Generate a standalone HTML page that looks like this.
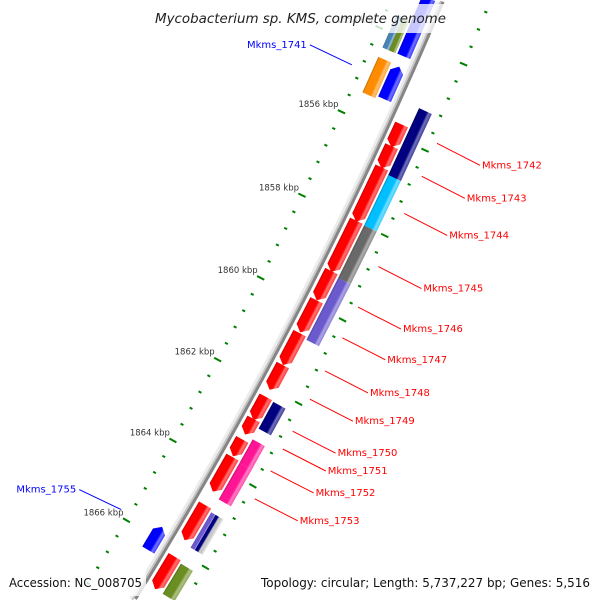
<!DOCTYPE html>
<html><head><meta charset="utf-8"><style>
html,body{margin:0;padding:0;background:#fff;width:600px;height:600px;overflow:hidden}
svg{display:block;overflow:hidden}
</style></head><body>
<svg id="map" xmlns="http://www.w3.org/2000/svg" width="600" height="600" viewBox="0 0 600 600">
<defs id="defs"></defs>
<g id="ticks"></g>
<g id="backbone"></g>
<g id="features"></g>
<g id="labels"></g>
<rect x="150" y="4" width="302" height="29" fill="#fff" fill-opacity="0.78"/>
<text x="155" y="23" font-family="DejaVu Sans, Liberation Sans, sans-serif" font-style="italic" font-size="13.5" fill="#222" textLength="291" lengthAdjust="spacingAndGlyphs">Mycobacterium sp. KMS, complete genome</text>
<rect x="4" y="572" width="142" height="24" fill="#fff" fill-opacity="0.78"/>
<text x="9" y="587" font-family="DejaVu Sans, Liberation Sans, sans-serif" font-size="12" fill="#111" textLength="133" lengthAdjust="spacingAndGlyphs">Accession: NC_008705</text>
<rect x="256" y="572" width="340" height="24" fill="#fff" fill-opacity="0.78"/>
<text x="261" y="587" font-family="DejaVu Sans, Liberation Sans, sans-serif" font-size="12" fill="#111" textLength="329" lengthAdjust="spacingAndGlyphs">Topology: circular; Length: 5,737,227 bp; Genes: 5,516</text>
</svg>
<script>
// ---- data ----
const geneStarts = [1855.71,1856.22,1856.72,1857.98,1859.18,1859.88,1860.67,1861.44,1862.21,1862.75,1863.25,1863.68,1864.86,1866.14,
  1855.24,1856.81,1858.0,1859.25,1862.23,1863.14,1863.72,1864.93,1864.93,1864.93,1866.2,
  1853.0,1854.60,1865.73,1854.59,1853.6,1853.6];
const geneEnds = [1856.24,1856.74,1858.0,1859.2,1859.88,1860.65,1861.44,1862.04,1862.77,1863.13,1863.66,1864.53,1865.73,1866.95,
  1856.81,1858.0,1859.25,1860.73,1862.88,1863.72,1864.61,1865.8,1865.8,1865.8,1866.95,
  1854.36,1855.37,1866.31,1855.43,1854.37,1854.37];
const geneStrands = [1,1,1,1,1,1,1,1,1,1,1,1,1,1,
  0,0,0,0,0,0,0,0,0,0,0,
  0,-1,-1,0,0,0];
const geneColors = ['#ff0000','#ff0000','#ff0000','#ff0000','#ff0000','#ff0000','#ff0000','#ff0000','#ff0000','#ff0000','#ff0000','#ff0000','#ff0000','#ff0000',
  '#000080','#00bfff','#696969','#6a5acd','#000080','#ff1493','#ff1493','#6a5acd','#000080','#c8c8c8','#6b8e23',
  '#0000ff','#0000ff','#0000ff','#ff8c00','#4682b4','#6b8e23'];
const laneInner = [53,53,53,53,53,53,53,53,53,53,53,53,53,53, 69,69,69,69,69,69,69,69,74,78,69, 27,27,27,11,11,18];
const laneOuter = [67,67,67,67,67,67,67,67,67,67,67,67,67,67, 83,83,83,83,83,83,83,75,79,83,83, 41,41,41,25,18,25];

const rightLabelNames = ['Mkms_1742','Mkms_1743','Mkms_1744','Mkms_1745','Mkms_1746','Mkms_1747','Mkms_1748','Mkms_1749','Mkms_1750','Mkms_1751','Mkms_1752','Mkms_1753'];
const rightLabelKbp = [1855.76,1856.53,1857.40,1858.65,1859.61,1860.34,1861.13,1861.81,1862.58,1863.01,1863.54,1864.22];
const leftLabelNames = ['Mkms_1741','Mkms_1755'];
const leftLabelKbp = [1854.98,1865.86];

const tickStart = 1852, tickEnd = 1867.6, tickStep = 0.4, majorEvery = 2;

// ---- geometry ----
const CX=-3602, CY=-1703, R0=4341, A0=27.15, K=0.6096;
const NS='http://www.w3.org/2000/svg';
function ang(s){return A0+(s-1860)*K;}
function pt(s,d){const a=ang(s)*Math.PI/180;const r=R0+d;return [CX+r*Math.cos(a),CY+r*Math.sin(a)];}
function inside(p){return p[0]>=2&&p[0]<=598&&p[1]>=2&&p[1]<=598;}
function mk(tag,attrs,parent){const e=document.createElementNS(NS,tag);for(const k in attrs)e.setAttribute(k,attrs[k]);if(parent)parent.appendChild(e);return e;}
function shade(hex,f){let r=parseInt(hex.substr(1,2),16),g=parseInt(hex.substr(3,2),16),b=parseInt(hex.substr(5,2),16);
  if(f>0){r=r+(255-r)*f;g=g+(255-g)*f;b=b+(255-b)*f;}else{r*=1+f;g*=1+f;b*=1+f;}
  return 'rgb('+Math.round(r)+','+Math.round(g)+','+Math.round(b)+')';}

const defs=document.getElementById('defs');
const gradCache={};
function grad(c){if(gradCache[c])return gradCache[c];const id='g'+c.substr(1);
  const lg=mk('linearGradient',{id:id,x1:'0',y1:'0',x2:'1',y2:'0'},defs);
  [[0,shade(c,-0.25)],[0.12,c],[0.62,c],[0.78,shade(c,0.45)],[1,shade(c,0.25)]].forEach(s=>mk('stop',{offset:s[0],'stop-color':s[1]},lg));
  gradCache[c]='url(#'+id+')';return gradCache[c];}

// ticks
const tg=document.getElementById('ticks');
for(let i=0;;i++){const s=tickStart+i*tickStep;if(s>tickEnd+1e-6)break;
  const major=Math.abs(s/majorEvery-Math.round(s/majorEvery))<1e-6;
  [0,92].forEach(d=>{const p=pt(s,d);if(!inside([p[0],p[1]+4])||!inside([p[0],p[1]-4]))return;
    const l=mk('line',{x1:major?-4:-1.6,y1:0,x2:major?4:1.6,y2:0,stroke:'#008000','stroke-width':2,transform:'translate('+p[0].toFixed(2)+','+p[1].toFixed(2)+') rotate('+ang(s).toFixed(3)+')'},tg);
    
    
  });
  if(major){const p=pt(s,0);if(p[1]<12||p[1]>596)continue;
    const t=mk('text',{x:(p[0]-3).toFixed(1),y:(p[1]-5).toFixed(1),'text-anchor':'end','font-family':'DejaVu Sans, Liberation Sans, sans-serif','font-size':'8.5',fill:'#333'},tg);
    t.textContent=Math.round(s)+' kbp';
    
    
  }
}

// backbone as clipped arc paths
const bg=document.getElementById('backbone');
function arcPath(d){const pts=[];for(let s=1852;s<=1868.01;s+=0.05){const p=pt(s,d);if(p[1]>=0&&p[1]<=600)pts.push(p);}
  return 'M'+pts.map(p=>p[0].toFixed(2)+','+p[1].toFixed(2)).join(' L');}
[[44,'#ececec',3,'backbone-shadow'],[46.2,'#c4c4c4',1.8,'backbone-highlight'],[48.6,'#858585',3,'backbone-line']].forEach(b=>{
  const e=mk('path',{d:arcPath(b[0]),fill:'none',stroke:b[1],'stroke-width':b[2]},bg);
  
  
});

// features
const fg=document.getElementById('features');
for(let i=0;i<geneStarts.length;i++){
  const s0=geneStarts[i],s1=geneEnds[i],d0=laneInner[i],d1=laneOuter[i],dm=(d0+d1)/2;
  const pa=pt(s0,dm),pb=pt(s1,dm);const L=Math.hypot(pb[0]-pa[0],pb[1]-pa[1]);
  const sm=(s0+s1)/2;const c=pt(sm,0);const h=Math.min(6,L/3);const y0=-L/2,y1=L/2;
  let pts;
  if(geneStrands[i]===1) pts=[[d0,y0],[d1,y0],[d1,y1-h],[dm,y1],[d0,y1-h]];
  else if(geneStrands[i]===-1) pts=[[dm,y0],[d1,y0+h],[d1,y1],[d0,y1],[d0,y0+h]];
  else pts=[[d0,y0],[d1,y0],[d1,y1],[d0,y1]];
  const poly=mk('polygon',{points:pts.map(q=>q[0].toFixed(2)+','+q[1].toFixed(2)).join(' '),fill:grad(geneColors[i]),transform:'translate('+c[0].toFixed(2)+','+c[1].toFixed(2)+') rotate('+ang(sm).toFixed(3)+')'},fg);
  
  
}

// labels
const lg=document.getElementById('labels');
rightLabelNames.forEach((n,i)=>{const p=pt(rightLabelKbp[i],100);const e=[p[0]+43,p[1]+22];
  const ln=mk('line',{x1:p[0].toFixed(1),y1:p[1].toFixed(1),x2:e[0].toFixed(1),y2:e[1].toFixed(1),stroke:'#ff0000','stroke-width':1},lg);
  
  
  const t=mk('text',{x:(e[0]+2).toFixed(1),y:(e[1]+3).toFixed(1),'font-family':'DejaVu Sans, Liberation Sans, sans-serif','font-size':'10',fill:'#ff0000'},lg);
  t.textContent=n;
  
  
});
leftLabelNames.forEach((n,i)=>{const p=pt(leftLabelKbp[i],-10);const e=[p[0]-42,p[1]-20];
  const ln=mk('line',{x1:p[0].toFixed(1),y1:p[1].toFixed(1),x2:e[0].toFixed(1),y2:e[1].toFixed(1),stroke:'#0000ff','stroke-width':1},lg);
  
  
  const t=mk('text',{x:(e[0]-3).toFixed(1),y:(e[1]+3).toFixed(1),'text-anchor':'end','font-family':'DejaVu Sans, Liberation Sans, sans-serif','font-size':'10',fill:'#0000ff'},lg);
  t.textContent=n;
  
  
});
</script>
</body></html>
